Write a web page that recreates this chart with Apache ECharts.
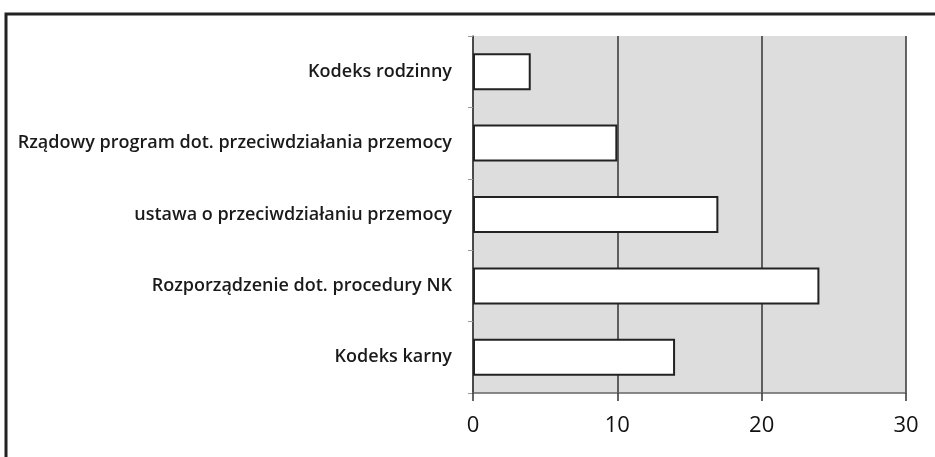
<!DOCTYPE html>
<html>
<head>
<meta charset="utf-8">
<script src="https://cdn.jsdelivr.net/npm/echarts@6/dist/echarts.min.js"></script>
<style>
  html, body { margin: 0; padding: 0; background: #fff; }
  #chart { width: 935px; height: 457px; }
</style>
</head>
<body>
<div id="chart"></div>
<script>
  // kategorie od dołu do góry (oś kategorii w ECharts rośnie w górę)
  var categories = [
    'Kodeks karny',
    'Rozporządzenie dot. procedury NK',
    'ustawa o przeciwdziałaniu przemocy',
    'Rządowy program dot. przeciwdziałania przemocy',
    'Kodeks rodzinny'
  ];
  var values = [14, 24, 17, 10, 4];
  var xTicks = [0, 10, 20, 30];

  var chart = echarts.init(document.getElementById('chart'));
  var option = {
    animation: false,
    textStyle: { fontFamily: 'Open Sans' },
    graphic: [{
      type: 'rect',
      shape: { x: 6, y: 14, width: 940, height: 460 },
      style: { fill: 'none', stroke: '#222', lineWidth: 3 },
      z: 10
    }],
    grid: {
      left: 473, right: 29, top: 36, bottom: 64,
      show: true,
      backgroundColor: '#dddddd',
      borderWidth: 0
    },
    xAxis: {
      type: 'value',
      min: xTicks[0],
      max: xTicks[xTicks.length - 1],
      interval: 10,
      axisLine: { show: true, lineStyle: { color: '#666', width: 1.5 } },
      axisTick: { show: true, length: 8, lineStyle: { color: '#333', width: 1.5 } },
      axisLabel: { color: '#111', fontSize: 22, margin: 22 },
      splitLine: { show: true, lineStyle: { color: '#333', width: 1.5 } }
    },
    yAxis: {
      type: 'category',
      data: categories,
      axisLine: { show: true, lineStyle: { color: '#444', width: 1.5 } },
      axisTick: { show: true, length: 5, lineStyle: { color: '#999' } },
      axisLabel: { color: '#1a1a1a', fontSize: 18, fontWeight: 600, margin: 21 },
      splitLine: { show: false }
    },
    series: [{
      type: 'bar',
      data: values,
      barWidth: 37,
      itemStyle: { color: '#fff', borderColor: '#222', borderWidth: 2 }
    }]
  };
  chart.setOption(option);
</script>
</body>
</html>
